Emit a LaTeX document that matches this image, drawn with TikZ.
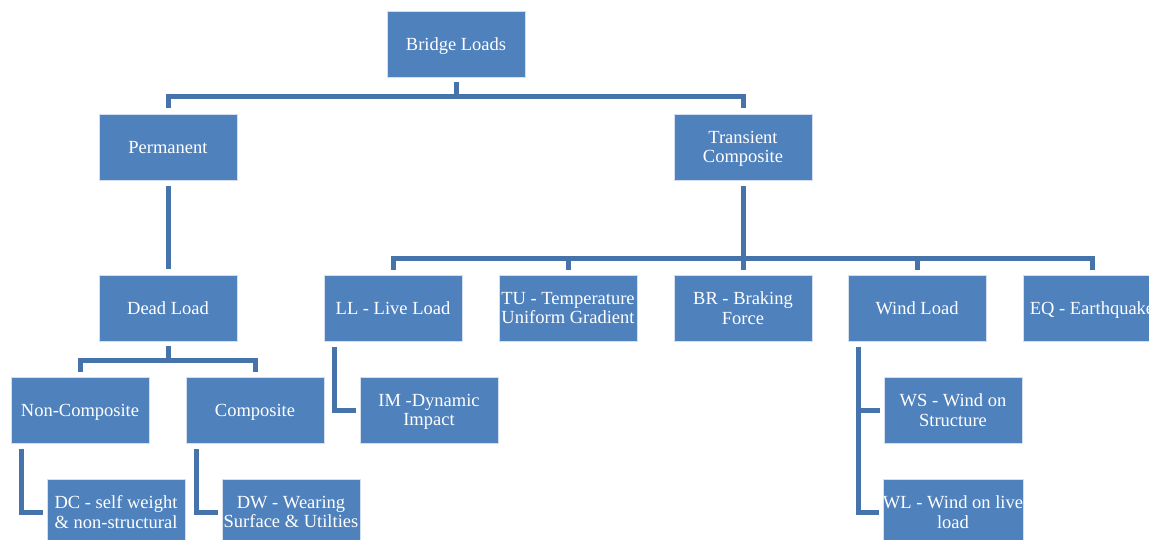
\documentclass[tikz,border=0pt]{standalone}
\usepackage{fontspec}
\setmainfont{Liberation Serif}
\usetikzlibrary{calc}
\definecolor{boxblue}{RGB}{79,129,189}
\definecolor{lineblue}{RGB}{70,115,170}
\tikzset{
  box/.style={rectangle, fill=boxblue, draw=white!75!boxblue, line width=0.8pt,
    minimum width=138pt, minimum height=66pt, inner sep=0pt, text=white,
    align=center, text depth=0pt, font=\fontsize{18.5}{19.5}\selectfont},
  conn/.style={draw=lineblue, line width=5pt}
}
\begin{document}
\begin{tikzpicture}[x=1pt,y=-1pt]
\useasboundingbox (0,0) rectangle (1149,539);
\clip (0,0) rectangle (1149,539);
\node[box] (bl) at (456,44) {Bridge Loads};
\node[box] (perm) at (168,147) {Permanent};
\node[box] (trans) at (743,147) {Transient\\Composite};
\node[box] (dead) at (168,308) {Dead Load};
\node[box] (ll) at (393,308) {LL - Live Load};
\node[box] (tu) at (568,308) {TU - Temperature\\Uniform Gradient};
\node[box] (br) at (743,308) {BR - Braking\\Force};
\node[box] (wind) at (917,308) {Wind Load};
\node[box] (eq) at (1092,308) {EQ - Earthquake};
\node[box] (nc) at (80,410) {Non-Composite};
\node[box] (comp) at (255,410) {Composite};
\node[box] (dc) at (116,512) {DC - self weight\\\& non-structural};
\node[box] (dw) at (291,512) {DW - Wearing\\Surface \& Utilties};
\node[box] (im) at (429,410) {IM -Dynamic\\Impact};
\node[box] (ws) at (953,410) {WS - Wind on\\Structure};
\node[box] (wl) at (953,512) {WL - Wind on live\\load};
% top level
\coordinate (h1) at (456,96);
\draw[conn] ($(bl.south)+(0,5)$) -- (h1);
\draw[conn] ($(perm.north)+(0,-6)$) |- (h1) -| ($(trans.north)+(0,-6)$);
% permanent
\draw[conn] ($(perm.south)+(0,6)$) -- ($(dead.north)+(0,-6)$);
% transient
\coordinate (h2) at (743,258);
\draw[conn] ($(trans.south)+(0,6)$) -- (h2);
\draw[conn] ($(ll.north)+(0,-5)$) |- (h2) -| ($(eq.north)+(0,-5)$);
\foreach \c in {tu,br,wind}
  \draw[conn] ($(\c.north)+(0,-5)$) -- (\c.north |- h2);
% dead load
\coordinate (h3) at (168,360);
\draw[conn] ($(dead.south)+(0,5)$) -- (h3);
\draw[conn] ($(nc.north)+(0,-5)$) |- (h3) -| ($(comp.north)+(0,-5)$);
% side connectors
\draw[conn] ($(nc.south west)+(11,6)$) |- ($(dc.west)+(-4,0)$);
\draw[conn] ($(comp.south west)+(11,6)$) |- ($(dw.west)+(-4,0)$);
\draw[conn] ($(ll.south west)+(11,6)$) |- ($(im.west)+(-4,0)$);
\coordinate (wx) at ($(wind.south west)+(11,6)$);
\draw[conn] (wx) |- ($(wl.west)+(-4,0)$);
\draw[conn] (ws.west -| wx) -- ($(ws.west)+(-4,0)$);
\end{tikzpicture}
\end{document}
